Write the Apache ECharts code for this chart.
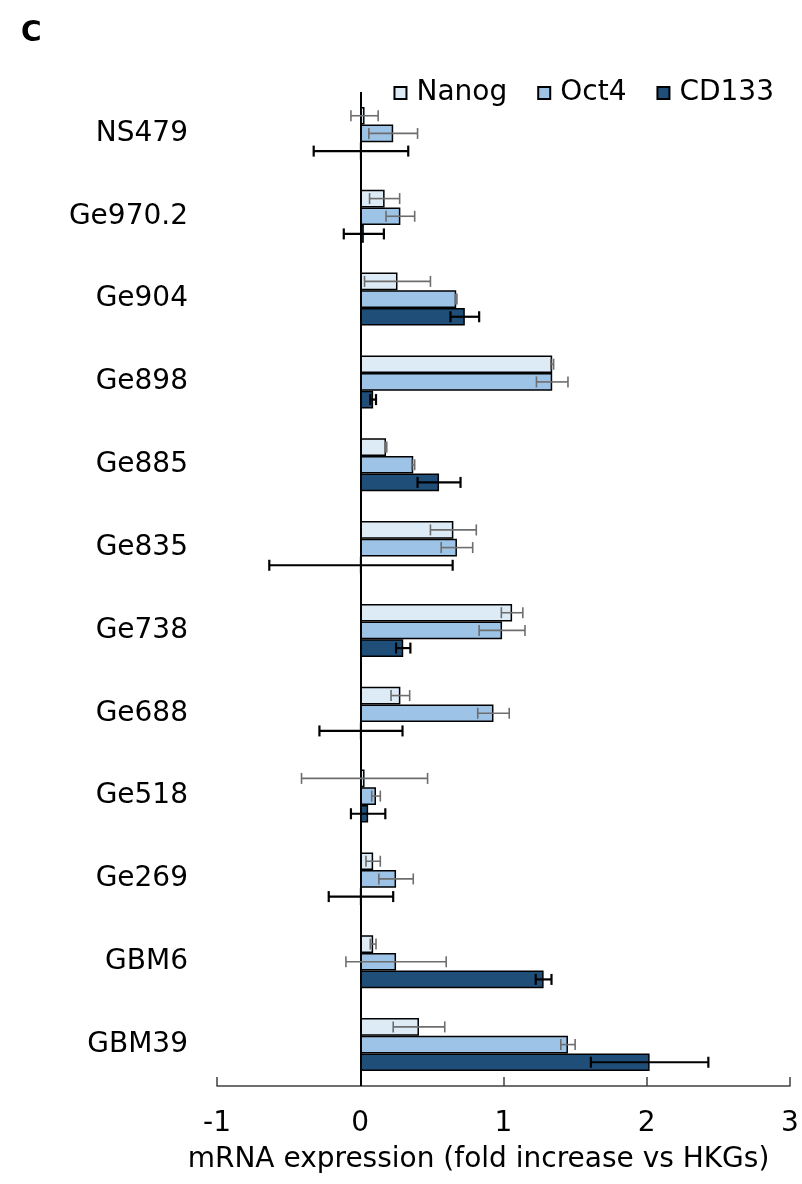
<!DOCTYPE html>
<html>
<head>
<meta charset="utf-8">
<script src="https://cdn.jsdelivr.net/npm/echarts@6/dist/echarts.min.js"></script>
<style>
  html, body { margin: 0; padding: 0; background: #fff; }
  #chart { width: 802px; height: 1184px; }
</style>
</head>
<body>
<div id="chart"></div>
<script>
// categories top to bottom
const cellLines = ['NS479', 'Ge970.2', 'Ge904', 'Ge898', 'Ge885', 'Ge835', 'Ge738', 'Ge688', 'Ge518', 'Ge269', 'GBM6', 'GBM39'];
const xTicks = [-1, 0, 1, 2, 3];

const nanog    = [0.03, 0.17, 0.26, 1.34, 0.18, 0.65, 1.06, 0.28, 0.03, 0.09, 0.09, 0.41];
const nanogErr = [0.095, 0.105, 0.23, 0.01, 0.005, 0.16, 0.075, 0.065, 0.44, 0.05, 0.02, 0.18];
const oct4     = [0.23, 0.28, 0.67, 1.34, 0.37, 0.675, 0.99, 0.93, 0.11, 0.25, 0.25, 1.45];
const oct4Err  = [0.17, 0.10, 0.005, 0.11, 0.01, 0.11, 0.16, 0.11, 0.03, 0.12, 0.35, 0.05];
const cd133    = [0.005, 0.025, 0.73, 0.09, 0.55, 0.005, 0.30, 0.005, 0.055, 0.005, 1.28, 2.02];
const cd133Err = [0.33, 0.14, 0.10, 0.02, 0.15, 0.64, 0.05, 0.29, 0.12, 0.225, 0.055, 0.41];

const FONT = 'DejaVu Sans';
const GAP = 0.36;

// error bar renderer, one per series (0 = top bar in the group)
function errorBars(seriesIdx, color, width) {
  return function (params, api) {
    const cat = api.value(0), v = api.value(1), e = api.value(2);
    const mid = api.coord([v, cat]);
    const lo = api.coord([v - e, cat]);
    const hi = api.coord([v + e, cat]);
    const band = api.size([0, 1])[1];
    const barH = band * (1 - GAP) / 3;
    const y = mid[1] + (seriesIdx - 1) * barH;
    const cap = 5.5;
    const style = {stroke: color, lineWidth: width};
    return {
      type: 'group',
      children: [
        {type: 'line', shape: {x1: lo[0], y1: y, x2: hi[0], y2: y}, style: style},
        {type: 'line', shape: {x1: lo[0], y1: y - cap, x2: lo[0], y2: y + cap}, style: style},
        {type: 'line', shape: {x1: hi[0], y1: y - cap, x2: hi[0], y2: y + cap}, style: style}
      ]
    };
  };
}

function errData(vals, errs) {
  return cellLines.map((c, i) => [i, vals[i], errs[i]]);
}

const chart = echarts.init(document.getElementById('chart'));
chart.setOption({
  animation: false,
  backgroundColor: '#fff',
  title: {
    text: 'C', left: 16, top: 15,
    textStyle: {fontFamily: FONT, fontSize: 28, fontWeight: 'bold', color: '#000'}
  },
  legend: {
    data: ['Nanog', 'Oct4', 'CD133'],
    right: 23, top: 74,
    icon: 'rect', itemWidth: 12, itemHeight: 12, itemGap: 30,
    textStyle: {fontFamily: FONT, fontSize: 28, color: '#000', padding: [0, 0, 0, 5]}
  },
  grid: {left: 217, right: 12, top: 92, bottom: 98},
  xAxis: {
    type: 'value', min: xTicks[0], max: xTicks[xTicks.length - 1], interval: 1,
    name: 'mRNA expression (fold increase vs HKGs)',
    nameLocation: 'middle', nameGap: 60,
    nameTextStyle: {fontFamily: FONT, fontSize: 28, color: '#000', padding: [0, 50, 0, 0]},
    axisLine: {show: true, onZero: false, lineStyle: {color: '#404040', width: 1.5}},
    axisTick: {show: true, inside: true, length: 9, lineStyle: {color: '#404040', width: 1.5}},
    splitLine: {show: false},
    axisLabel: {fontFamily: FONT, fontSize: 28, color: '#000', margin: 24}
  },
  yAxis: {
    type: 'category', data: cellLines, inverse: true,
    axisLine: {show: false}, axisTick: {show: false},
    axisLabel: {fontFamily: FONT, fontSize: 28, color: '#000', margin: 29}
  },
  series: [
    {
      name: 'Nanog', type: 'bar', data: nanog, barGap: '0%', barCategoryGap: (GAP * 100) + '%',
      itemStyle: {color: '#DDEBF7', borderColor: '#000', borderWidth: 1.5},
      markLine: {
        silent: true, symbol: 'none', label: {show: false},
        lineStyle: {color: '#000', width: 2, type: 'solid'},
        data: [{xAxis: 0}]
      }
    },
    {
      name: 'Oct4', type: 'bar', data: oct4,
      itemStyle: {color: '#9DC3E6', borderColor: '#000', borderWidth: 1.5}
    },
    {
      name: 'CD133', type: 'bar', data: cd133,
      itemStyle: {color: '#1F4E79', borderColor: '#000', borderWidth: 1.5}
    },
    {type: 'custom', z: 5, renderItem: errorBars(0, '#6E6E6E', 1.6), data: errData(nanog, nanogErr), encode: {x: 1, y: 0}},
    {type: 'custom', z: 5, renderItem: errorBars(1, '#6E6E6E', 1.6), data: errData(oct4, oct4Err), encode: {x: 1, y: 0}},
    {type: 'custom', z: 5, renderItem: errorBars(2, '#000', 2.2), data: errData(cd133, cd133Err), encode: {x: 1, y: 0}}
  ]
});
</script>
</body>
</html>
